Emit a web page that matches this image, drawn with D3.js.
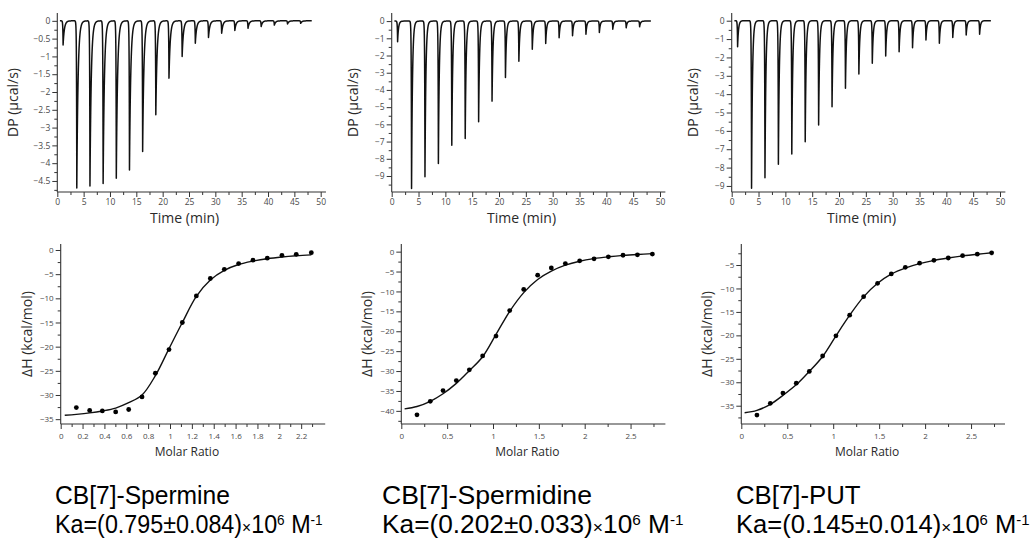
<!DOCTYPE html>
<html>
<head>
<meta charset="utf-8">
<script src="https://cdn.jsdelivr.net/npm/d3@7/dist/d3.min.js"></script>
<style>
    body { margin: 0; background: #fff; }
    svg { display: block; font-family: "Open Sans", sans-serif; }
</style>
</head>
<body>
<script>
// Injection times (min), shared by the three titrations
const injectTimes = [1.1, 3.7, 6.2, 8.7, 11.2, 13.7, 16.2, 18.7, 21.2, 23.7, 26.2, 28.7, 31.2, 33.7, 36.2, 38.7, 41.2, 43.7, 46.2];

// Peak depths of the raw thermograms (µcal/s, below baseline)
const dpSpermine   = [0.68, 4.70, 4.64, 4.57, 4.42, 4.19, 3.67, 2.64, 1.61, 1.00, 0.63, 0.47, 0.35, 0.27, 0.21, 0.16, 0.12, 0.09, 0.07];
const dpSpermidine = [1.20, 9.73, 9.05, 8.28, 7.21, 6.82, 5.85, 4.65, 3.28, 2.33, 1.63, 1.30, 0.97, 0.85, 0.76, 0.66, 0.47, 0.39, 0.33];
const dpPut        = [1.42, 9.13, 8.55, 7.82, 7.26, 6.59, 5.68, 4.68, 3.68, 2.90, 2.32, 1.92, 1.69, 1.47, 1.05, 1.23, 0.91, 0.78, 0.74];

// Integrated heats (kcal/mol) against molar ratio
const ratioSpermine = [0.143, 0.265, 0.381, 0.503, 0.622, 0.744, 0.866, 0.991, 1.113, 1.241, 1.369, 1.497, 1.628, 1.759, 1.890, 2.024, 2.155, 2.293];
const dhSpermine    = [-32.6, -33.2, -33.3, -33.5, -33.0, -30.4, -25.5, -20.6, -15.0, -9.5, -5.9, -4.0, -2.8, -2.1, -1.7, -1.1, -0.9, -0.55];
const ratioSpermidine = [0.171, 0.316, 0.455, 0.600, 0.742, 0.887, 1.033, 1.182, 1.335, 1.487, 1.636, 1.789, 1.945, 2.102, 2.258, 2.418, 2.575, 2.738];
const dhSpermidine    = [-41.0, -37.6, -34.9, -32.4, -29.7, -26.2, -21.2, -14.8, -9.5, -5.9, -4.1, -3.0, -2.3, -1.8, -1.3, -0.9, -0.8, -0.6];
const ratioPut = [0.170, 0.316, 0.453, 0.598, 0.740, 0.885, 1.030, 1.179, 1.331, 1.483, 1.632, 1.785, 1.940, 2.096, 2.252, 2.408, 2.568, 2.724];
const dhPut    = [-37.0, -34.5, -32.3, -30.2, -27.7, -24.4, -20.1, -15.7, -11.75, -8.9, -6.9, -5.5, -4.6, -4.0, -3.5, -3.0, -2.7, -2.4];

// Fitted curves
const fitRatioSpermine = [0.037, 0.143, 0.265, 0.381, 0.503, 0.622, 0.744, 0.866, 0.991, 1.113, 1.241, 1.369, 1.497, 1.628, 1.759, 1.890, 2.024, 2.155, 2.293];
const fitDhSpermine    = [-34.2, -34.0, -33.7, -33.3, -32.7, -31.6, -30.0, -26.0, -20.4, -15.0, -9.6, -6.2, -4.2, -3.0, -2.3, -1.8, -1.45, -1.2, -1.0];
const fitRatioSpermidine = [0.036, 0.171, 0.316, 0.455, 0.600, 0.742, 0.887, 1.033, 1.182, 1.335, 1.487, 1.636, 1.789, 1.945, 2.100, 2.260, 2.420, 2.580, 2.740];
const fitDhSpermidine    = [-39.5, -38.9, -37.6, -35.7, -33.1, -29.9, -26.4, -20.8, -15.0, -10.3, -7.0, -4.9, -3.4, -2.4, -1.75, -1.3, -0.95, -0.7, -0.5];
const fitRatioPut = [0.036, 0.170, 0.316, 0.453, 0.600, 0.740, 0.885, 1.030, 1.180, 1.330, 1.480, 1.630, 1.790, 1.940, 2.100, 2.250, 2.410, 2.570, 2.730];
const fitDhPut    = [-36.5, -36.0, -34.7, -32.8, -30.5, -27.7, -24.5, -20.1, -15.7, -11.8, -8.95, -6.95, -5.6, -4.7, -4.0, -3.5, -3.05, -2.7, -2.4];

// Captions
const names = ["CB[7]-Spermine", "CB[7]-Spermidine", "CB[7]-PUT"];
const kaValues = ["0.795", "0.202", "0.145"];
const kaErrors = ["0.084", "0.033", "0.014"];

const W = 1031, H = 538;
const svg = d3.select("body").append("svg").attr("width", W).attr("height", H);
svg.append("rect").attr("width", W).attr("height", H).attr("fill", "#fff");

const AXIS = "#333", TICKTXT = "#4a4a4a", TITLE = "#2a2a2a";

function range(start, stop, step) {
    const out = [];
    for (let i = 0; ; i++) {
        const v = +(start + i * step).toFixed(4);
        if ((step > 0 && v > stop + 1e-6) || (step < 0 && v < stop - 1e-6)) break;
        out.push(v);
    }
    return out;
}

// Draw a pair of axes with major (labelled) and minor ticks
function drawAxes(g, x, y, opt) {
    const [x0] = x.range();
    const [yb, yt] = y.range();

    g.append("g").attr("transform", `translate(0,${yb})`)
        .call(d3.axisBottom(x).tickValues(opt.xMinor).tickSize(3).tickFormat(""));
    g.append("g").attr("transform", `translate(0,${yb})`)
        .call(d3.axisBottom(x).tickValues(opt.xMajor).tickSize(5).tickPadding(opt.xPad)
            .tickFormat(opt.xFmt));
    g.append("g").attr("transform", `translate(${x0},0)`)
        .call(d3.axisLeft(y).tickValues(opt.yMinor).tickSize(3).tickFormat(""));
    g.append("g").attr("transform", `translate(${x0},0)`)
        .call(d3.axisLeft(y).tickValues(opt.yMajor).tickSize(5).tickPadding(2)
            .tickFormat(opt.yFmt));

    g.selectAll(".domain").remove();
    g.selectAll(".tick line").attr("stroke", AXIS).attr("stroke-width", 1);
    g.selectAll(".tick text").attr("fill", TICKTXT).style("font-size", opt.tickFont + "px")
        .style("font-family", "'Open Sans', sans-serif");

    // axis lines
    g.append("line").attr("x1", x0).attr("x2", x(opt.xEnd)).attr("y1", yb).attr("y2", yb)
        .attr("stroke", AXIS).attr("stroke-width", 1.1);
    g.append("line").attr("x1", x0).attr("x2", x0).attr("y1", yb).attr("y2", yt)
        .attr("stroke", AXIS).attr("stroke-width", 1.1);

    g.append("text").attr("transform", `translate(${opt.yTitleX},${(yb + yt) / 2}) rotate(-90)`)
        .attr("text-anchor", "middle").attr("fill", TITLE).style("font-size", opt.titleFont + "px")
        .text(opt.yTitle);
    g.append("text").attr("x", (x0 + x(opt.xEnd)) / 2 - opt.xTitleShift).attr("y", opt.xTitleY)
        .attr("text-anchor", "middle").attr("fill", TITLE).style("font-size", opt.xTitleFont + "px")
        .text(opt.xTitle);
}

// ---- Top row: raw thermograms ----
const thermo = [
    { depths: dpSpermine,   left: 57.3,  right: 320.7, yDom: [-4.81, 0.22], yStep: 0.5, yMin: 0.25, yLow: -4.5, tau: 0.24, titleX: 13 },
    { depths: dpSpermidine, left: 391.7, right: 660,   yDom: [-9.93, 0.47], yStep: 1,   yMin: 0.5,  yLow: -9,   tau: 0.17, titleX: 353 },
    { depths: dpPut,        left: 731.7, right: 1000,  yDom: [-9.33, 0.42], yStep: 1,   yMin: 0.5,  yLow: -9,   tau: 0.17, titleX: 693 }
];

function traceOf(depths, tau) {
    const ts = range(0.5, 48.3, 0.01).concat(injectTimes).sort((a, b) => a - b);
    return ts.map(t => {
        let v = 0;
        injectTimes.forEach((t0, i) => {
            const dt = t - t0;
            if (dt < -0.4 || dt > 4) return;
            v -= depths[i] * (dt < 0 ? Math.exp(dt / 0.05) : Math.exp(-dt / tau));
        });
        return [t, v];
    });
}

thermo.forEach(p => {
    const g = svg.append("g");
    const x = d3.scaleLinear().domain([0, 50]).range([p.left, p.right]);
    const y = d3.scaleLinear().domain(p.yDom).range([192, 13]);

    drawAxes(g, x, y, {
        xMajor: range(0, 50, 5), xMinor: range(2.5, 47.5, 5), xEnd: 51, xPad: 2,
        xFmt: d3.format("d"),
        yMajor: range(0, p.yLow, -p.yStep),
        yMinor: range(-p.yMin, p.yDom[0], -p.yStep).filter(v => v >= p.yDom[0]),
        yFmt: d => d3.format("")(d),
        tickFont: 8.5, titleFont: 14, xTitleFont: 14,
        yTitle: "DP (µcal/s)", yTitleX: p.titleX + 5,
        xTitle: "Time (min)", xTitleY: 223, xTitleShift: 7
    });

    const line = d3.line().x(d => x(d[0])).y(d => y(d[1]));
    g.append("path").datum(traceOf(p.depths, p.tau)).attr("d", line)
        .attr("fill", "none").attr("stroke", "#111").attr("stroke-width", 1.5)
        .attr("stroke-linejoin", "round");
});

// ---- Bottom row: binding isotherms ----
const iso = [
    { rx: ratioSpermine, dh: dhSpermine, fx: fitRatioSpermine, fy: fitDhSpermine,
      left: 60.7, unit: 109.3, xEnd: 2.42, xMajor: range(0, 2.2, 0.2), xMinor: range(0.1, 2.4, 0.2),
      yDom: [-36.0, 1.24], yMajor: range(0, -35, -5), yMinor: range(-2.5, -32.5, -5), titleX: 27 },
    { rx: ratioSpermidine, dh: dhSpermidine, fx: fitRatioSpermidine, fy: fitDhSpermidine,
      left: 401.3, unit: 91.7, xEnd: 2.88, xMajor: range(0, 2.5, 0.5), xMinor: range(0.25, 2.75, 0.5),
      yDom: [-43.3, 1.92], yMajor: range(0, -40, -5), yMinor: range(-2.5, -42.5, -5), titleX: 367 },
    { rx: ratioPut, dh: dhPut, fx: fitRatioPut, fy: fitDhPut,
      left: 741.3, unit: 91.9, xEnd: 2.87, xMajor: range(0, 2.5, 0.5), xMinor: range(0.25, 2.75, 0.5),
      yDom: [-38.9, -0.52], yMajor: range(-5, -35, -5), yMinor: range(-2.5, -37.5, -5), titleX: 707 }
];

iso.forEach(p => {
    const g = svg.append("g");
    const x = d3.scaleLinear().domain([0, 1]).range([p.left, p.left + p.unit]);
    const y = d3.scaleLinear().domain(p.yDom).range([424, 244]);

    drawAxes(g, x, y, {
        xMajor: p.xMajor, xMinor: p.xMinor, xEnd: p.xEnd, xPad: 4,
        xFmt: d => d3.format("")(d),
        yMajor: p.yMajor, yMinor: p.yMinor, yFmt: d => d3.format("")(d),
        tickFont: 8, titleFont: 14, xTitleFont: 12,
        yTitle: "ΔH (kcal/mol)", yTitleX: p.titleX + 5,
        xTitle: "Molar Ratio", xTitleY: 456, xTitleShift: 6
    });

    const fit = d3.line().x((d, i) => x(p.fx[i])).y((d, i) => y(p.fy[i])).curve(d3.curveCatmullRom);
    g.append("path").datum(p.fx).attr("d", fit)
        .attr("fill", "none").attr("stroke", "#111").attr("stroke-width", 1.4);

    g.selectAll("circle.pt").data(p.rx).enter().append("circle")
        .attr("cx", d => x(d)).attr("cy", (d, i) => y(p.dh[i])).attr("r", 2.4).attr("fill", "#000");
});

// ---- Captions ----
// each caption line is stretched to the width it has in the figure
const capX = [55, 382, 736];
const nameWidth = [175, 210, 125];
const kaWidth = [268, 302, 294];

function fitWidth(sel, y, target) {
    const w = sel.node().getBBox().width;
    sel.attr("transform", `translate(0,${y}) scale(${target / w},1.05)`);
}

names.forEach((n, i) => {
    const c = svg.append("g").attr("transform", `translate(${capX[i]},0)`)
        .style("font-family", "'Liberation Sans', Arial, sans-serif").attr("fill", "#000");
    const t1 = c.append("text").style("font-size", "24px").text(n);
    fitWidth(t1, 504, nameWidth[i]);

    const t = c.append("text").style("font-size", "24px");
    t.append("tspan").text(`Ka=(${kaValues[i]}`);
    t.append("tspan").text("±");
    t.append("tspan").text(`${kaErrors[i]})`);
    t.append("tspan").style("font-size", "16px").text("×");
    t.append("tspan").text("10");
    t.append("tspan").attr("dy", -8).style("font-size", "14px").text("6");
    t.append("tspan").attr("dy", 8).text(" M");
    t.append("tspan").attr("dy", -8).style("font-size", "14px").text("-1");
    fitWidth(t, 533, kaWidth[i]);
});
</script>
</body>
</html>
